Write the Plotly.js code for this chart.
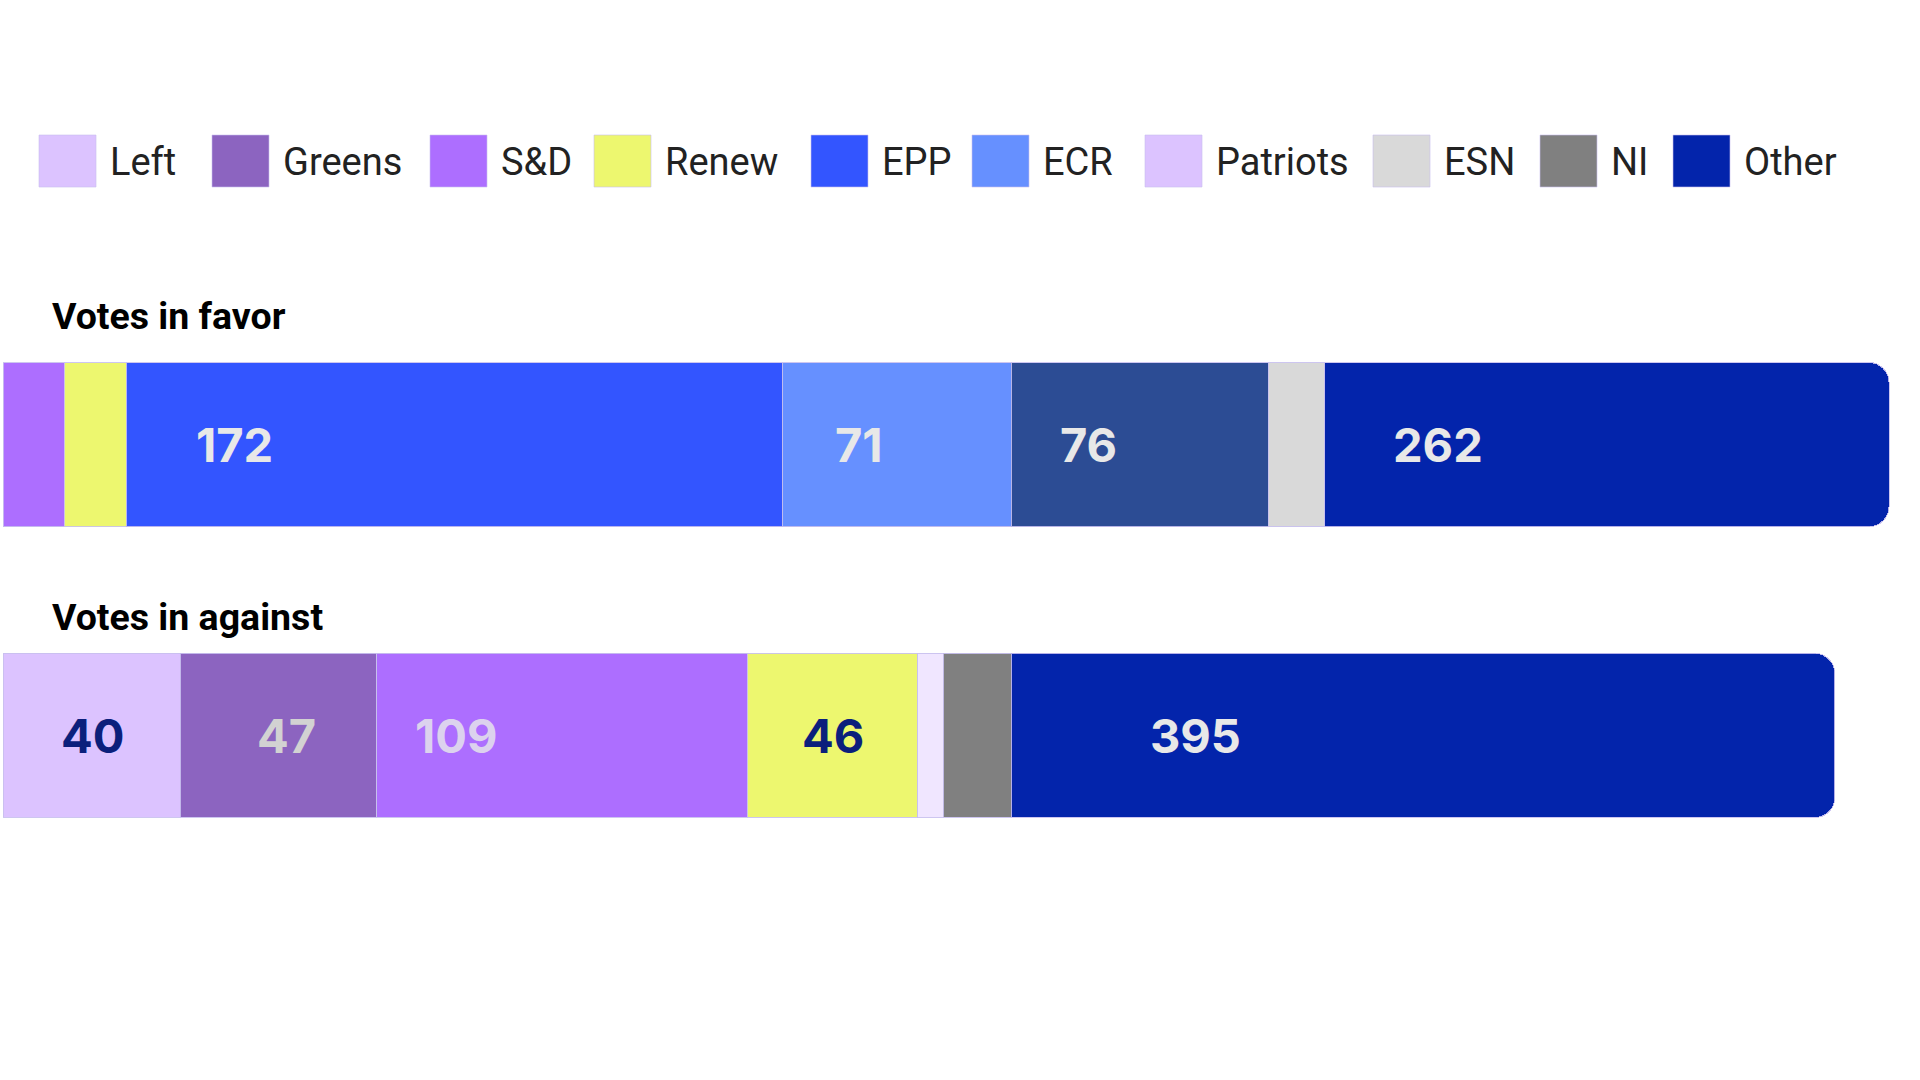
<!DOCTYPE html>
<html>
<head>
<meta charset="utf-8">
<script src="https://cdn.plot.ly/plotly-3.0.1.min.js"></script>
<style>
  html, body { margin: 0; padding: 0; background: #ffffff; }
  #chart { width: 1920px; height: 1080px; }
</style>
</head>
<body>
<div id="chart"></div>
<script>
// ---------------- DATA ----------------
const categories = ['Votes in favor', 'Votes in against'];
const parties = ['Left', 'Greens', 'S&D', 'Renew', 'EPP', 'ECR', 'Patriots', 'ESN', 'NI', 'Other'];
// segment widths (as drawn in the picture, in chart units)
const favorWidths   = [null, null, 16.0, 16.3, 172.0, 60.0, 67.4, 14.9, null, 147.9];
const againstWidths = [46.5, 51.5, 97.1, 44.8, null, null, 6.6, null, 17.8, 216.0];
// value labels printed on the segments
const favorLabels   = ['', '', '', '', '172', '71', '76', '', '', '262'];
const againstLabels = ['40', '47', '109', '46', '', '', '', '', '', '395'];

// ---------------- STYLE ----------------
const partyColors = ['#DCC3FF', '#8C64C0', '#AD6EFF', '#EDF76F', '#3355FF', '#6690FF', '#DCC3FF', '#D9D9D9', '#808080', '#0324AB'];
const favorColors = partyColors.slice();   favorColors[6] = '#2C4C94';
const againstColors = partyColors.slice(); againstColors[6] = '#F0E6FF';
const favorLabelColors   = ['', '', '', '', '#E8E8E8', '#E8E8E8', '#E8E8E8', '', '', '#E8E8E8'];
const againstLabelColors = ['#0B1F7C', '#D2D2D2', '#DCD2EE', '#0B1F7C', '', '', '', '', '', '#E8E8E8'];
// pixel offset of each label from the start of its segment
const favorLabelShift   = [0, 0, 0, 0, 68, 51, 47, 0, 0, 66];
const againstLabelShift = [56, 75, 36, 53, 0, 0, 0, 0, 0, 137];
// legend layout (pixels)
const legendBoxX = [39, 212, 430, 594, 811, 972, 1145, 1373, 1540, 1673];

const FONT = "Roboto, 'Liberation Sans', sans-serif";
const NUMFONT = "Inter, Roboto, sans-serif";
const W = 1920, H = 1080;
const M = { l: 3, r: 3, t: 270, b: 170, pad: 0 };
const plotW = W - M.l - M.r, plotH = H - M.t - M.b;
const pxUnit = 3.814;              // pixels per chart unit
const xMax = plotW / pxUnit;
const px2x = px => (px - M.l) / plotW;
const py2y = py => 1 - (py - M.t) / plotH;

// ---------------- TRACES ----------------
const traces = parties.map((p, i) => ({
  type: 'bar',
  orientation: 'h',
  name: p,
  y: categories,
  x: [favorWidths[i], againstWidths[i]],
  width: 0.564,
  marker: {
    color: [favorColors[i], againstColors[i]],
    line: { width: 1, color: 'rgba(200,192,238,0.9)' }
  },
  hoverinfo: 'skip',
  showlegend: false
}));

// ---------------- ANNOTATIONS ----------------
const annotations = [];
// group titles
annotations.push({ xref: 'paper', yref: 'paper', x: px2x(50), y: py2y(316), xanchor: 'left', yanchor: 'middle',
  text: '<b>Votes in favor</b>', showarrow: false, font: { family: FONT, size: 37.5, color: '#000000' } });
annotations.push({ xref: 'paper', yref: 'paper', x: px2x(50), y: py2y(617), xanchor: 'left', yanchor: 'middle',
  text: '<b>Votes in against</b>', showarrow: false, font: { family: FONT, size: 37.5, color: '#000000' } });

// value labels
let cumF = 0, cumA = 0;
parties.forEach((p, i) => {
  if (favorLabels[i]) {
    annotations.push({ xref: 'x', yref: 'y', x: cumF, y: categories[0], xanchor: 'left', yanchor: 'middle',
      xshift: favorLabelShift[i], text: '<b>' + favorLabels[i] + '</b>', showarrow: false,
      font: { family: NUMFONT, size: 47, color: favorLabelColors[i] } });
  }
  if (againstLabels[i]) {
    annotations.push({ xref: 'x', yref: 'y', x: cumA, y: categories[1], xanchor: 'left', yanchor: 'middle',
      xshift: againstLabelShift[i], text: '<b>' + againstLabels[i] + '</b>', showarrow: false,
      font: { family: NUMFONT, size: 47, color: againstLabelColors[i] } });
  }
  cumF += favorWidths[i] || 0;
  cumA += againstWidths[i] || 0;
});

// legend (boxes + names)
const shapes = [];
parties.forEach((p, i) => {
  const x0 = legendBoxX[i];
  shapes.push({ type: 'rect', xref: 'paper', yref: 'paper',
    x0: px2x(x0), x1: px2x(x0 + 57), y0: py2y(187), y1: py2y(135),
    fillcolor: partyColors[i], line: { width: 1, color: 'rgba(200,192,238,0.6)' } });
  annotations.push({ xref: 'paper', yref: 'paper', x: px2x(x0 + 69), y: py2y(162), xanchor: 'left', yanchor: 'middle',
    text: p, showarrow: false, font: { family: FONT, size: 38, color: '#222222' } });
});

const layout = {
  width: W, height: H,
  margin: M,
  paper_bgcolor: '#ffffff',
  plot_bgcolor: '#ffffff',
  barmode: 'stack',
  barcornerradius: 20,
  showlegend: false,
  xaxis: { range: [0, xMax], visible: false, fixedrange: true },
  yaxis: { type: 'category', range: [1.6, -0.6], visible: false, fixedrange: true },
  annotations: annotations,
  shapes: shapes
};

Plotly.newPlot('chart', traces, layout, { displayModeBar: false, staticPlot: true });
</script>
</body>
</html>
